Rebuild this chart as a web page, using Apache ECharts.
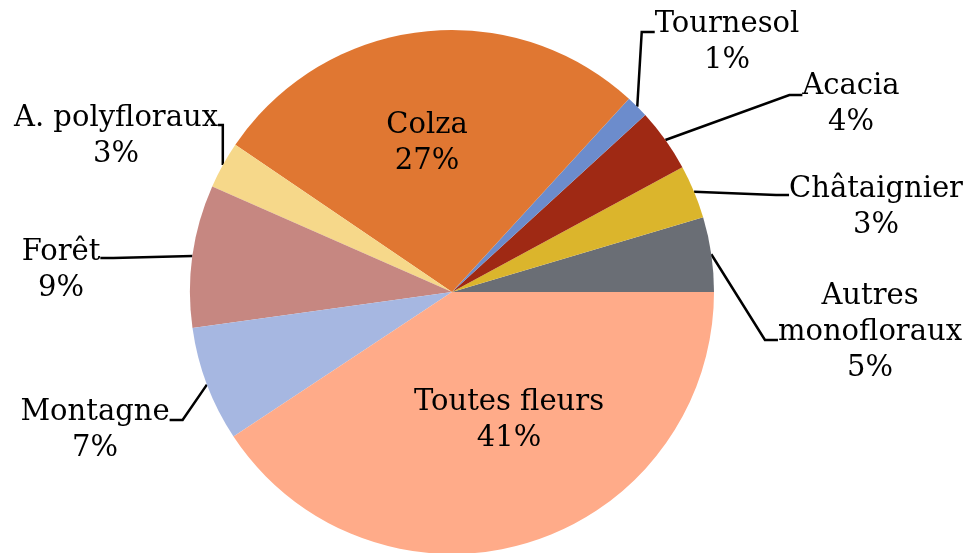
<!DOCTYPE html>
<html>
<head>
<meta charset="utf-8">
<script src="https://cdn.jsdelivr.net/npm/echarts@6/dist/echarts.min.js"></script>
<style>
  html, body { margin: 0; padding: 0; background: #fff; }
  #camembert { width: 968px; height: 553px; }
</style>
</head>
<body>
<div id="camembert"></div>
<script>
// ordre anti-horaire depuis 3 h
const categories = ['Autres\nmonofloraux', 'Châtaignier', 'Acacia', 'Tournesol', 'Colza',
  'A. polyfloraux', 'Forêt', 'Montagne', 'Toutes fleurs']
const values = [4.6, 3.3, 3.9, 1.4, 27.3, 2.9, 8.8, 7.1, 40.7]
const colors = ['#6a6e75', '#dbb52c', '#9f2914', '#6c8ccc', '#e07732',
  '#f6d88a', '#c68781', '#a6b7e1', '#ffab89']

// centre du texte (x, y) et décalage du point d'attache du trait
const labelPos = {
  'Autres\nmonofloraux': [870, 332, 8],
  'Châtaignier': [876, 207, -12],
  'Acacia': [851, 104, -9],
  'Tournesol': [727, 42, -10],
  'Colza': [427, 143, 0],
  'A. polyfloraux': [116, 136, -11],
  'Forêt': [61, 270, -12],
  'Montagne': [95, 430, -10],
  'Toutes fleurs': [509, 420, 0]
}
const inside = ['Colza', 'Toutes fleurs']

// lignes vides pour décaler le milieu du cadre (le trait s'y accroche)
let rich = {}
Object.keys(labelPos).forEach((k) => {
  let h = Math.abs(labelPos[k][2]) * 2
  if (h > 0) rich['sp' + h] = { lineHeight: h, fontSize: 2 }
})

let data = categories.map((name, i) => {
  let item = {
    name: name,
    value: values[i],
    itemStyle: { color: colors[i] }
  }
  if (inside.indexOf(name) >= 0) {
    item.labelLine = { show: false }
  }
  return item
})

let myChart = echarts.init(document.getElementById('camembert'))
let option = {
  animation: false,
  series: [{
    type: 'pie',
    center: [452, 292],
    radius: 262,
    startAngle: 0,
    clockwise: false,
    avoidLabelOverlap: false,
    emphasis: { disabled: true },
    itemStyle: { borderWidth: 0 },
    label: {
      show: true,
      position: 'outside',
      fontFamily: 'DejaVu Serif',
      fontSize: 29,
      lineHeight: 36,
      color: '#000',
      align: 'center',
      rich: rich,
      formatter: (p) => {
        let txt = p.name + '\n' + Math.round(p.percent) + '%'
        let s = labelPos[p.name][2]
        if (s < 0) return '{sp' + (-2 * s) + '| }\n' + txt
        if (s > 0) return txt + '\n{sp' + (2 * s) + '| }'
        return txt
      }
    },
    labelLine: {
      show: true,
      length: 10,
      length2: 13,
      smooth: false,
      lineStyle: { color: '#000', width: 2.5 }
    },
    labelLayout: (params) => {
      let pos = labelPos[categories[params.dataIndex]]
      if (!pos) return {}
      return { x: pos[0], y: pos[1] + pos[2], align: 'center', verticalAlign: 'middle' }
    },
    data: data
  }]
}
myChart.setOption(option)
</script>
</body>
</html>
